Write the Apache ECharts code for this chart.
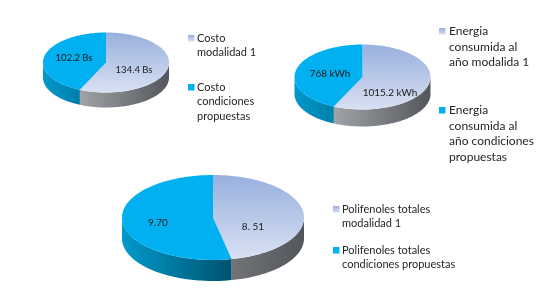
<!DOCTYPE html>
<html><head><meta charset="utf-8">
<style>html,body{margin:0;padding:0;background:#fff}#c{width:552px;height:303px}</style>
<script src="https://cdn.jsdelivr.net/npm/echarts@6/dist/echarts.min.js"></script>
</head><body><div id="c"></div>
<script>
// Values
const costValues = [134.4, 102.2];
const costLabels = ['134.4 Bs', '102.2 Bs'];
const costLegend = [['Costo', 'modalidad 1'], ['Costo', 'condiciones', 'propuestas']];
const energyValues = [1015.2, 768];
const energyLabels = ['1015.2 kWh', '768 kWh'];
const energyLegend = [['Energia', 'consumida al', 'año modalida 1'], ['Energia', 'consumida al', 'año condiciones', 'propuestas']];
const phenolValues = [8.51, 9.70];
const phenolLabels = ['8. 51', '9.70'];
const phenolLegend = [['Polifenoles totales', 'modalidad 1'], ['Polifenoles totales', 'condiciones propuestas']];

// Layout and style
const FONT = 'Lato, "Open Sans", sans-serif';
const TEXT = '#262626';
const grad = (x2, y2, a, b) => ({type:'linear', x:0, y:0, x2, y2, colorStops:[{offset:0,color:a},{offset:1,color:b}]});
const topFill = [grad(0,1,'#98b0de','#d9e0f2'), '#00b0f0'];

const pies = [
  {values:costValues, labels:costLabels, cx:106, cy:62.5, rx:63, ry:30, depth:15,
   labelPos:[[134,69.5],[74,58]], walls:[grad(1,0,'#a0a3a8','#53565b'), grad(1,0,'#0098cc','#007fa8')], fs:9.5,
   legend:costLegend, lx:188, tx:197, lh:14.5, ly:[[38],[87]], fs2:11},
  {values:energyValues, labels:energyLabels, cx:362.5, cy:77, rx:68, ry:32.5, depth:17,
   labelPos:[[390,92.5],[330,73.5]], walls:[grad(1,0,'#a0a3a8','#53565b'), grad(1,0,'#0098cc','#007fa8')], fs:10,
   legend:energyLegend, lx:439, tx:449, lh:15.7, ly:[[31],[110]], fs2:12},
  {values:phenolValues, labels:phenolLabels, cx:213, cy:217.5, rx:91, ry:42.5, depth:21,
   labelPos:[[253,227],[158,223]], walls:[grad(1,0,'#727477','#53565b'), grad(1,0,'#009acc','#00536e')], fs:10,
   legend:phenolLegend, lx:333, tx:342, lh:14, ly:[[209],[250]], fs2:11}
];

function arc(p, a0, a1, dy) {
  const pts = [], n = Math.max(2, Math.ceil(Math.abs(a1 - a0) / 1.5));
  for (let i = 0; i <= n; i++) {
    const t = (a0 + (a1 - a0) * i / n) * Math.PI / 180;
    pts.push([p.cx + p.rx * Math.sin(t), p.cy - p.ry * Math.cos(t) + dy]);
  }
  return pts;
}

const series = pies.map(p => ({
  type: 'custom',
  coordinateSystem: 'none',
  silent: true,
  data: p.values.map(v => [v]),
  renderItem(params, api) {
    const total = p.values.reduce((s, v) => s + v, 0);
    const i = params.dataIndex;
    const start = p.values.slice(0, i).reduce((s, v) => s + v, 0) / total * 360;
    const end = start + api.value(0) / total * 360;
    const children = [];
    const w0 = Math.max(start, 90), w1 = Math.min(end, 270);
    if (w1 > w0) {
      children.push({type:'polygon', z2:1, shape:{points: arc(p, w0, w1, 0).concat(arc(p, w1, w0, p.depth))},
        style:{fill:p.walls[i]}});
    }
    children.push({type:'polygon', z2:2, shape:{points: [[p.cx, p.cy]].concat(arc(p, start, end, 0))},
      style:{fill:topFill[i]}});
    children.push({type:'text', z2:3, x:p.labelPos[i][0], y:p.labelPos[i][1],
      style:{text:p.labels[i], fill:'#1a1a1a', font:p.fs+'px '+FONT, align:'center', verticalAlign:'middle'}});
    return {type:'group', children};
  }
}));

const graphic = [];
pies.forEach(p => p.legend.forEach((lines, k) => {
  const y0 = p.ly[k][0];
  graphic.push({type:'rect', shape:{x:p.lx, y:y0-3, width:6.5, height:6.5}, silent:true,
    style:{fill: k === 0 ? grad(0,1,'#98b0de','#d9e0f2') : '#00b0f0'}});
  lines.forEach((t, j) => graphic.push({type:'text', x:p.tx, y:y0 + j*p.lh, silent:true,
    style:{text:t, fill:TEXT, font:p.fs2+'px '+FONT, align:'left', verticalAlign:'middle'}}));
}));

const chart = echarts.init(document.getElementById('c'), null, {renderer:'canvas'});
chart.setOption({animation:false, backgroundColor:'#fff', series, graphic});
</script></body></html>
